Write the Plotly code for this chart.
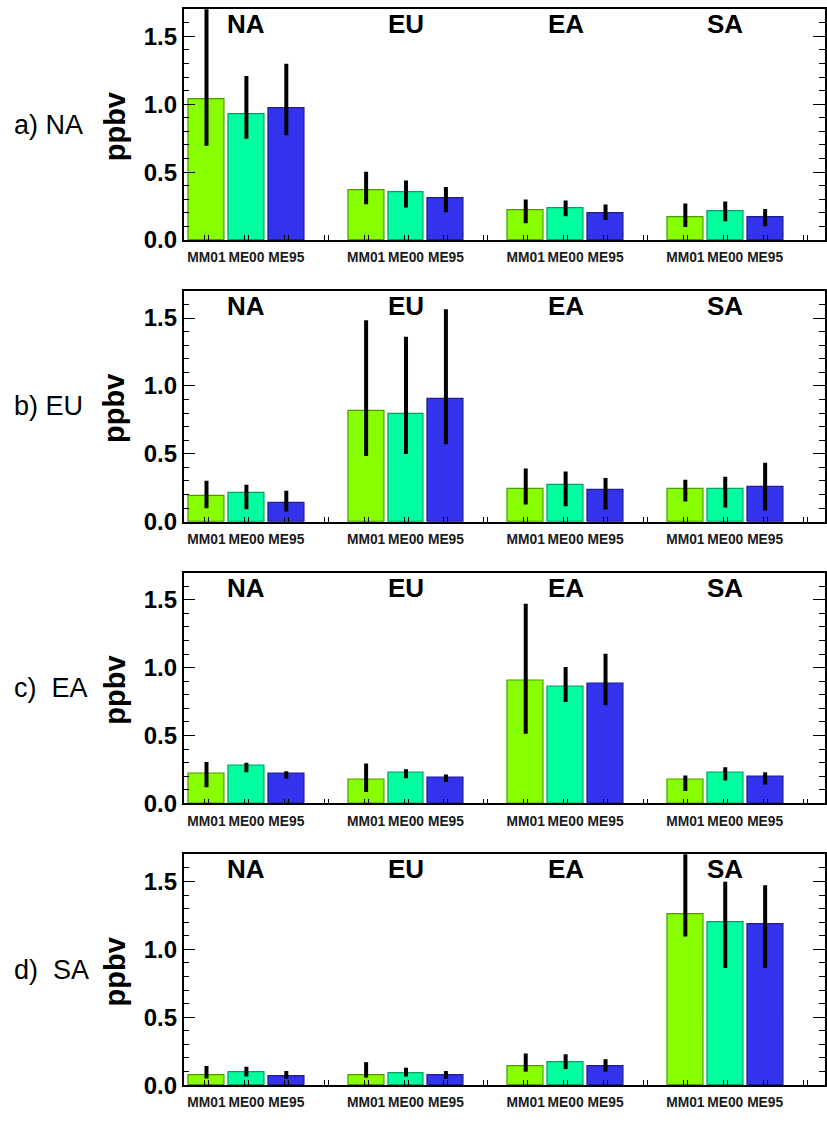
import plotly.graph_objects as go

models = ["MM01", "ME00", "ME95"]
regions = ["NA", "EU", "EA", "SA"]
panel_labels = ["a) NA", "b) EU", "c)\u00a0 EA", "d)\u00a0 SA"]
colors = ["#88ff00", "#00ff9f", "#3333ee"]
edge_colors = ["#4f9a00", "#00a064", "#1e1e8c"]

# mean values per receptor region (rows) for each model, one block per source panel
a_mean = [[1.039, 0.929, 0.973], [0.366, 0.354, 0.306], [0.218, 0.233, 0.201], [0.167, 0.209, 0.167]]
a_hi = [[1.80, 1.208, 1.298], [0.502, 0.439, 0.391], [0.298, 0.291, 0.262], [0.269, 0.284, 0.228]]
a_lo = [[0.694, 0.745, 0.771], [0.264, 0.240, 0.204], [0.124, 0.175, 0.148], [0.095, 0.138, 0.102]]

b_mean = [[0.192, 0.209, 0.136], [0.817, 0.797, 0.905], [0.238, 0.270, 0.231], [0.238, 0.240, 0.255]]
b_hi = [[0.301, 0.272, 0.228], [1.483, 1.362, 1.564], [0.391, 0.369, 0.321], [0.309, 0.331, 0.435]]
b_lo = [[0.099, 0.092, 0.075], [0.484, 0.498, 0.571], [0.126, 0.114, 0.090], [0.148, 0.104, 0.082]]

c_mean = [[0.222, 0.276, 0.218], [0.174, 0.225, 0.189], [0.908, 0.860, 0.882], [0.174, 0.225, 0.198]]
c_hi = [[0.305, 0.300, 0.237], [0.293, 0.251, 0.213], [1.470, 1.005, 1.102], [0.206, 0.266, 0.230]]
c_lo = [[0.118, 0.230, 0.184], [0.084, 0.186, 0.157], [0.513, 0.746, 0.722], [0.092, 0.169, 0.140]]

d_mean = [[0.073, 0.092, 0.068], [0.070, 0.084, 0.073], [0.140, 0.167, 0.138], [1.257, 1.199, 1.187]]
d_hi = [[0.140, 0.135, 0.104], [0.169, 0.128, 0.104], [0.233, 0.227, 0.191], [1.80, 1.497, 1.472]]
d_lo = [[0.048, 0.063, 0.046], [0.055, 0.063, 0.046], [0.099, 0.118, 0.099], [1.094, 0.862, 0.862]]

panels = [(a_mean, a_hi, a_lo), (b_mean, b_hi, b_lo), (c_mean, c_hi, c_lo), (d_mean, d_hi, d_lo)]

W, H = 827, 1123
tops = [9.3, 294.3, 579.3, 864.3]
ph = 233.5
x_left = 184

FONT = "Liberation Sans, Arial, Helvetica, sans-serif"

fig = go.Figure()
layout = dict(
    width=W, height=H, margin=dict(l=0, r=0, t=0, b=0),
    paper_bgcolor="white", plot_bgcolor="white", showlegend=False,
    bargap=0, barmode="overlay",
)
annotations = []

slots = list(range(16))
bar_pos = [4 * g + m for g in range(4) for m in range(3)]
bar_text = [models[m] for g in range(4) for m in range(3)]
minor_vals = [s + d for s in slots for d in (-0.05, 0.05)]

for p, (mean, hi, lo) in enumerate(panels):
    sfx = "" if p == 0 else str(p + 1)
    xa, ya = "x" + sfx, "y" + sfx
    for m in range(3):
        xs = [4 * g + m for g in range(4)]
        ys = [mean[g][m] for g in range(4)]
        up = [hi[g][m] - mean[g][m] for g in range(4)]
        dn = [mean[g][m] - lo[g][m] for g in range(4)]
        fig.add_trace(go.Bar(
            x=xs, y=ys, width=0.9, xaxis=xa, yaxis=ya,
            marker=dict(color=colors[m], line=dict(color=edge_colors[m], width=1.2)),
            error_y=dict(type="data", symmetric=False, array=up, arrayminus=dn,
                         color="black", thickness=4, width=0),
            name=models[m], cliponaxis=True,
        ))
    y1 = 1 - tops[p] / H
    y0 = 1 - (tops[p] + ph) / H
    layout["xaxis" + sfx] = dict(
        domain=[x_left / W, 1], anchor=ya, range=[-0.575, 15.5],
        showline=True, linecolor="black", linewidth=1.5, mirror=True,
        showgrid=False, zeroline=False,
        tickmode="array", tickvals=bar_pos, ticktext=bar_text, ticks="",
        tickangle=0,
        tickfont=dict(family=FONT, size=13.8, color="#1a1a1a", weight="bold"),
        ticklabelstandoff=4,
        minor=dict(tickmode="array", tickvals=minor_vals, ticks="inside",
                   ticklen=5, tickcolor="black", tickwidth=1, showgrid=False),
    )
    layout["yaxis" + sfx] = dict(
        domain=[y0, y1], anchor=xa, range=[0, 1.7],
        showline=True, linecolor="black", linewidth=1.5, mirror="ticks",
        showgrid=False, zeroline=False,
        tickmode="array", tickvals=[0, 0.5, 1.0, 1.5], tickformat=".1f",
        ticks="inside", ticklen=12, tickcolor="black", tickwidth=1,
        tickfont=dict(family=FONT, size=24, color="black", weight="bold"),
        minor=dict(dtick=0.1, ticks="inside", ticklen=6, tickcolor="black",
                   tickwidth=1, showgrid=False),
    )
    for g in range(4):
        annotations.append(dict(
            x=4 * g + 1, y=1, xref=xa, yref=ya + " domain", yanchor="top",
            yshift=2, text="<b>" + regions[g] + "</b>", showarrow=False,
            font=dict(family=FONT, size=26, color="black"),
        ))
    ymid = 1 - (tops[p] + ph / 2) / H
    annotations.append(dict(
        x=115 / W, y=ymid - 2 / H, xref="paper", yref="paper", textangle=-90,
        text="<b>ppbv</b>", showarrow=False, xanchor="center", yanchor="middle",
        font=dict(family=FONT, size=29, color="black"),
    ))
    annotations.append(dict(
        x=12 / W, y=ymid, xref="paper", yref="paper", xanchor="left",
        yanchor="middle", text=panel_labels[p], showarrow=False,
        font=dict(family=FONT, size=27, color="black"),
    ))

layout["annotations"] = annotations
fig.update_layout(**layout)
fig.write_html(
    "out.html",
    config={"displayModeBar": False},
    post_script="document.body.style.margin='0';document.body.style.overflow='hidden';",
)
